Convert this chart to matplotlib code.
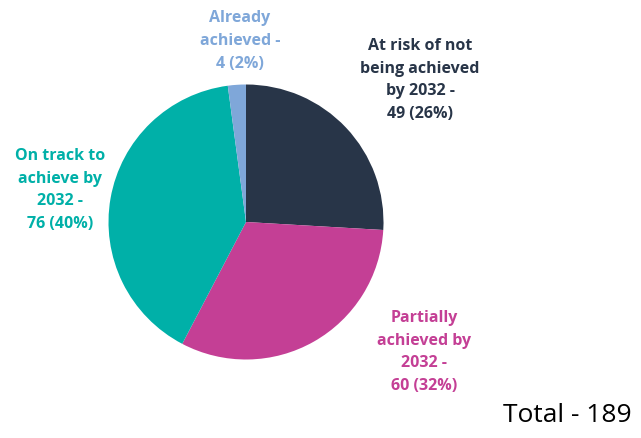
import matplotlib.pyplot as plt

# values
categories = ["At risk of not\nbeing achieved\nby 2032 -",
              "Partially\nachieved by\n2032 -",
              "On track to\nachieve by\n2032 -",
              "Already\nachieved -"]
counts = [49, 60, 76, 4]
colors = ["#283548", "#C43F95", "#00B0A8", "#7FA7D9"]
total = 189

W, H = 641, 438
fig = plt.figure(figsize=(W / 100, H / 100), dpi=100)

# pie centre and radius in pixels
cx, cy, r = 246, 222, 137.5
ax = fig.add_axes([(cx - r) / W, (H - cy - r) / H, 2 * r / W, 2 * r / H])
ax.pie(counts, colors=colors, startangle=90, counterclock=False,
       wedgeprops=dict(linewidth=0))
ax.set_xlim(-1, 1)
ax.set_ylim(-1, 1)
ax.set_aspect("equal")
ax.axis("off")

# label positions (pixel, centre of text block)
label_pos = [(420, 80), (424, 352), (60, 190), (240, 41)]
for name, n, col, (x, y) in zip(categories, counts, colors, label_pos):
    pct = round(n / total * 100)
    fig.text(x / W, 1 - y / H, f"{name}\n{n} ({pct}%)", color=col,
             ha="center", va="center", fontsize=11.5, fontweight="bold",
             family="Open Sans", linespacing=1.55)

fig.text(632 / W, 1 - 415 / H, f"Total - {total}", ha="right", va="center",
         fontsize=19, family="Open Sans", color="black")

fig.savefig("out.png", dpi=100)
